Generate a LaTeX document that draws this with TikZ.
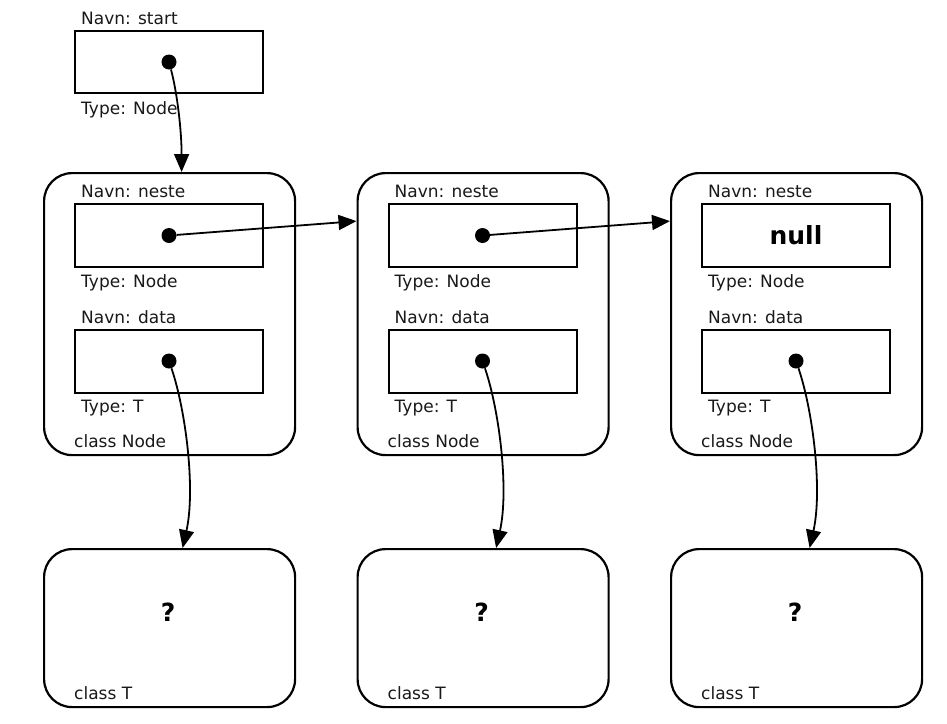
\documentclass[tikz,border=0pt]{standalone}
\usepackage{fontspec}
\setmainfont{DejaVu Sans}
\usetikzlibrary{arrows.meta}
\begin{document}
\begin{tikzpicture}[x=1pt,y=-1pt,
  classbox/.style={draw, line width=2.2pt, rounded corners=28pt, minimum width=251pt, inner sep=0pt, anchor=north west},
  fieldbox/.style={draw, line width=2pt, minimum width=188pt, minimum height=63pt, inner sep=0pt, anchor=north west},
  lbl/.style={anchor=base west, inner sep=0pt, font=\fontsize{17}{20}\selectfont, text=black!90},
  bigtxt/.style={anchor=center, inner sep=0pt, font=\fontsize{25}{29}\selectfont\bfseries},
  dot/.style={circle, fill=black, inner sep=0pt, minimum size=15pt},
  arr/.style={line width=1.8pt, -{Triangle[length=18pt,width=15pt]}}
]
\path[fill=white, use as bounding box] (0,0) rectangle (947,723);

% start variable
\node[lbl] (lstart) at (81,24) {Navn: start};
\node[fieldbox, minimum height=62pt] (s) at (74,30) {};
\node[lbl] (lstype) at (81,114) {Type: Node};
\node[dot] (sd) at (s.center) {};

\foreach \i in {0,1,2}{
  \pgfmathsetmacro\o{\i*313.5}
  \node[classbox, minimum height=282pt] (n\i) at (43+\o,172) {};
  \node[fieldbox] (nb\i) at (74+\o,203) {};
  \node[fieldbox] (db\i) at (74+\o,328.5) {};
  \node[lbl] (ln\i) at (81+\o,197) {Navn: neste};
  \node[lbl] (lnt\i) at (81+\o,287) {Type: Node};
  \node[lbl] (ld\i) at (81+\o,323) {Navn: data};
  \node[lbl] (ldt\i) at (81+\o,412) {Type: T};
  \node[lbl] (lc\i) at (74+\o,447) {class Node};
  \node[classbox, minimum height=158pt] (t\i) at (43+\o,548) {};
  \node[bigtxt] (q\i) at (168+\o,612) {?};
  \node[lbl] (lt\i) at (74+\o,699) {class T};
  \node[dot] (dd\i) at (db\i.center) {};
  \draw[arr] (dd\i) .. controls +(17,50) and +(13,-58) .. ([xshift=13pt]t\i.north);
}

\node[dot] (nd0) at (nb0.center) {};
\node[dot] (nd1) at (nb1.center) {};
\node[bigtxt] (null) at (nb2.center) {null};

\draw[arr] (sd) .. controls +(8,30) and +(0,-42) .. ([xshift=12pt]n0.north);
\draw[arr] (nd0) -- ([yshift=93pt]n1.west);
\draw[arr] (nd1) -- ([yshift=93pt]n2.west);
\end{tikzpicture}
\end{document}
